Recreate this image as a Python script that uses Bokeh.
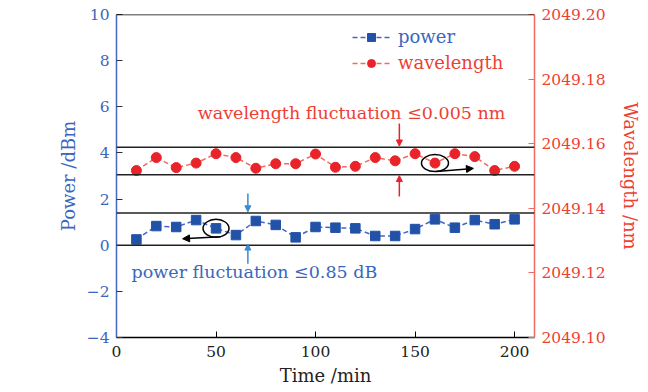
from bokeh.plotting import figure
from bokeh.models import (Range1d, LinearAxis, FixedTicker, Span, Label, Arrow, NormalHead,
                          Legend, LegendItem, CustomJSTickFormatter, PrintfTickFormatter)
from bokeh.embed import file_html
from bokeh.resources import INLINE

# ---- data ----
time_min = [10, 20, 30, 40, 50, 60, 70, 80, 90, 100, 110, 120, 130, 140, 150, 160, 170, 180, 190, 200]
power_dbm = [0.25, 0.83, 0.79, 1.09, 0.73, 0.44, 1.05, 0.88, 0.34, 0.79,
             0.76, 0.73, 0.40, 0.40, 0.70, 1.12, 0.76, 1.09, 0.91, 1.12]
wavelength_nm = [2049.1517, 2049.1557, 2049.1526, 2049.1540, 2049.1569, 2049.1557, 2049.1524,
                 2049.1538, 2049.1538, 2049.1568, 2049.1527, 2049.1530, 2049.1557, 2049.1547,
                 2049.1569, 2049.1540, 2049.1569, 2049.1560, 2049.1517, 2049.1530]
x_ticks = [0, 50, 100, 150, 200]
power_ticks = [-4, -2, 0, 2, 4, 6, 8, 10]
wl_ticks = [2049.10, 2049.12, 2049.14, 2049.16, 2049.18, 2049.20]
band_levels = [4.25, 3.05, 1.4, 0.0]

FONT = "DejaVu Serif"
BLUE_AX = "#4766bd"
BLUE_MK = "#2152a8"
BLUE_TX = "#3b66be"
BLUE_AR = "#3a8ad0"
RED_AX = "#f06a62"
RED_MK = "#e8232a"
RED_TX = "#ee3f33"
TICK_FS = "15.5px"
LABEL_FS = "18px"

p = figure(width=648, height=392, x_range=Range1d(0, 210), y_range=Range1d(-4, 10),
           output_backend="svg", toolbar_location=None,
           min_border_left=116, min_border_right=114, min_border_top=14, min_border_bottom=55)
p.grid.visible = False
p.outline_line_color = None
p.background_fill_color = "white"

p.extra_y_ranges = {"wl": Range1d(2049.10, 2049.20)}

# bottom axis
xa = p.xaxis[0]
xa.ticker = FixedTicker(ticks=x_ticks)
xa.axis_label = "Time /min"
xa.axis_line_color = "black"
xa.axis_line_width = 1.5
xa.major_tick_in = 6
xa.major_tick_out = 0
xa.minor_tick_line_color = None
xa.major_tick_line_color = "black"
xa.major_label_text_font = FONT
xa.major_label_text_font_size = TICK_FS
xa.major_label_text_color = "#222222"
xa.axis_label_text_font = FONT
xa.axis_label_text_font_size = LABEL_FS
xa.axis_label_text_font_style = "normal"
xa.axis_label_text_color = "#222222"
xa.major_label_standoff = 8
xa.axis_label_standoff = 5

# left axis
ya = p.yaxis[0]
ya.ticker = FixedTicker(ticks=power_ticks)
ya.formatter = CustomJSTickFormatter(code="return tick < 0 ? '\u2212' + Math.abs(tick) : String(tick);")
ya.axis_label = "Power /dBm"
ya.axis_line_color = BLUE_AX
ya.axis_line_width = 1.5
ya.major_tick_in = 6
ya.major_tick_out = 0
ya.major_tick_line_color = "#333333"
ya.minor_tick_line_color = None
ya.major_label_text_font = FONT
ya.major_label_text_font_size = TICK_FS
ya.major_label_text_color = BLUE_TX
ya.axis_label_text_font = FONT
ya.axis_label_text_font_size = LABEL_FS
ya.axis_label_text_font_style = "normal"
ya.axis_label_text_color = BLUE_TX
ya.major_label_standoff = 7
ya.axis_label_standoff = 5

# right axis
ra = LinearAxis(y_range_name="wl", ticker=FixedTicker(ticks=wl_ticks),
                formatter=PrintfTickFormatter(format="%.2f"))
ra.axis_label = "Wavelength /nm"
ra.axis_line_color = RED_AX
ra.axis_line_width = 1.5
ra.major_tick_in = 6
ra.major_tick_out = 0
ra.major_tick_line_color = RED_AX
ra.minor_tick_line_color = None
ra.major_label_text_font = FONT
ra.major_label_text_font_size = TICK_FS
ra.major_label_text_color = RED_TX
ra.axis_label_text_font = FONT
ra.axis_label_text_font_size = LABEL_FS
ra.axis_label_text_font_style = "normal"
ra.axis_label_text_color = RED_TX
ra.major_label_standoff = 7
ra.axis_label_standoff = 11
p.add_layout(ra, "right")

# top frame line
p.add_layout(Span(location=10, dimension="width", line_color="black", line_width=1.5))

# band lines
for lv in band_levels:
    p.add_layout(Span(location=lv, dimension="width", line_color="#222222", line_width=1.5))

# series
pl = p.line(time_min, power_dbm, line_color=BLUE_AX, line_width=1.5, line_dash="5 3")
ps = p.scatter(time_min, power_dbm, marker="square", size=9.5, fill_color=BLUE_MK, line_color=BLUE_MK)
wl_l = p.line(time_min, wavelength_nm, y_range_name="wl", line_color=RED_AX, line_width=1.5, line_dash="5 3")
wl_s = p.scatter(time_min, wavelength_nm, y_range_name="wl", marker="circle", size=10,
                 fill_color=RED_MK, line_color=RED_MK)

# ellipses around highlighted points
p.ellipse(x=[time_min[4]], y=[power_dbm[4]], width=26, height=18,
          width_units="screen", height_units="screen",
          fill_color=None, line_color="black", line_width=1.5)
p.ellipse(x=[time_min[15]], y=[wavelength_nm[15]], width=27, height=17,
          width_units="screen", height_units="screen", y_range_name="wl",
          fill_color=None, line_color="black", line_width=1.5)

def arrow(x0, y0, x1, y1, color, size=7):
    p.add_layout(Arrow(end=NormalHead(size=size, fill_color=color, line_color=color),
                       x_start=x0, y_start=y0, x_end=x1, y_end=y1,
                       line_color=color, line_width=1.5))

arrow(160.7, 3.20, 179.3, 3.33, "black")
arrow(52.4, 0.37, 33.2, 0.28, "black")
arrow(142.1, 5.28, 142.1, 4.30, RED_MK, 6)
arrow(142.1, 2.11, 142.1, 3.02, RED_MK, 6)
arrow(66.0, 2.24, 66.0, 1.45, BLUE_AR, 6)
arrow(66.0, -0.80, 66.0, 0.05, BLUE_AR, 6)

# annotation texts
p.add_layout(Label(x=118.1, y=5.72, text="wavelength fluctuation \u22640.005 nm",
                   text_align="center", text_baseline="middle", text_font=FONT,
                   text_font_size="17.5px", text_color=RED_TX))
p.add_layout(Label(x=69.3, y=-1.15, text="power fluctuation \u22640.85 dB",
                   text_align="center", text_baseline="middle", text_font=FONT,
                   text_font_size="17.5px", text_color=BLUE_TX))

# legends
def make_legend(label, rends, color, loc):
    lg = Legend(items=[LegendItem(label=label, renderers=rends)], location=loc,
                border_line_color=None, background_fill_alpha=0, padding=0, margin=0,
                spacing=0, glyph_width=38, glyph_height=20, label_standoff=8,
                label_text_font=FONT, label_text_font_size=LABEL_FS, label_text_color=color)
    p.add_layout(lg)

make_legend("power", [pl, ps], BLUE_TX, (236, 290))
make_legend("wavelength", [wl_l, wl_s], RED_TX, (236, 264))

open("out.html", "w").write(file_html(p, INLINE))
